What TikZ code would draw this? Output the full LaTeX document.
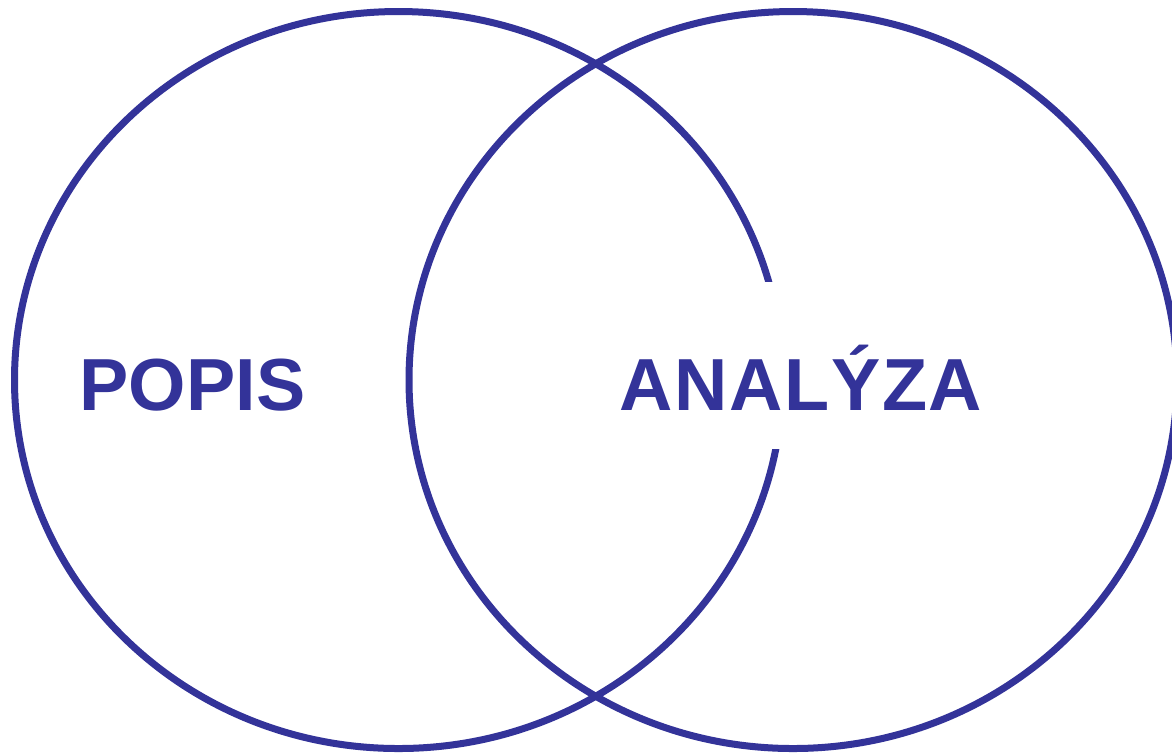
\documentclass[tikz,border=0pt]{standalone}
\usepackage{fontspec}
\setmainfont{Liberation Sans}[Kerning=Off]
\definecolor{modra}{RGB}{51,51,153}
\begin{document}
\begin{tikzpicture}[line join=round, line cap=round,
		kruh/.style={draw=modra, line width=0.07cm},
		napis/.style={text=modra, font=\bfseries\fontsize{21}{25}\selectfont, inner sep=0pt, anchor=base}]
			\useasboundingbox (0,0) rectangle (11.72,-7.55);
			\draw[kruh] (3.985,-3.80) ellipse [x radius=3.84, y radius=3.685];
			\draw[kruh] (7.93,-3.80) ellipse [x radius=3.84, y radius=3.685];
			\node[napis] (popis) at (1.925,-4.10) {POPIS};
			\node[napis, fill=white, text height=1.28cm, text depth=0.39cm] (analyza) at (8.01,-4.10) {\addfontfeature{LetterSpace=2.2}ANALÝZA};
		\end{tikzpicture}
\end{document}
